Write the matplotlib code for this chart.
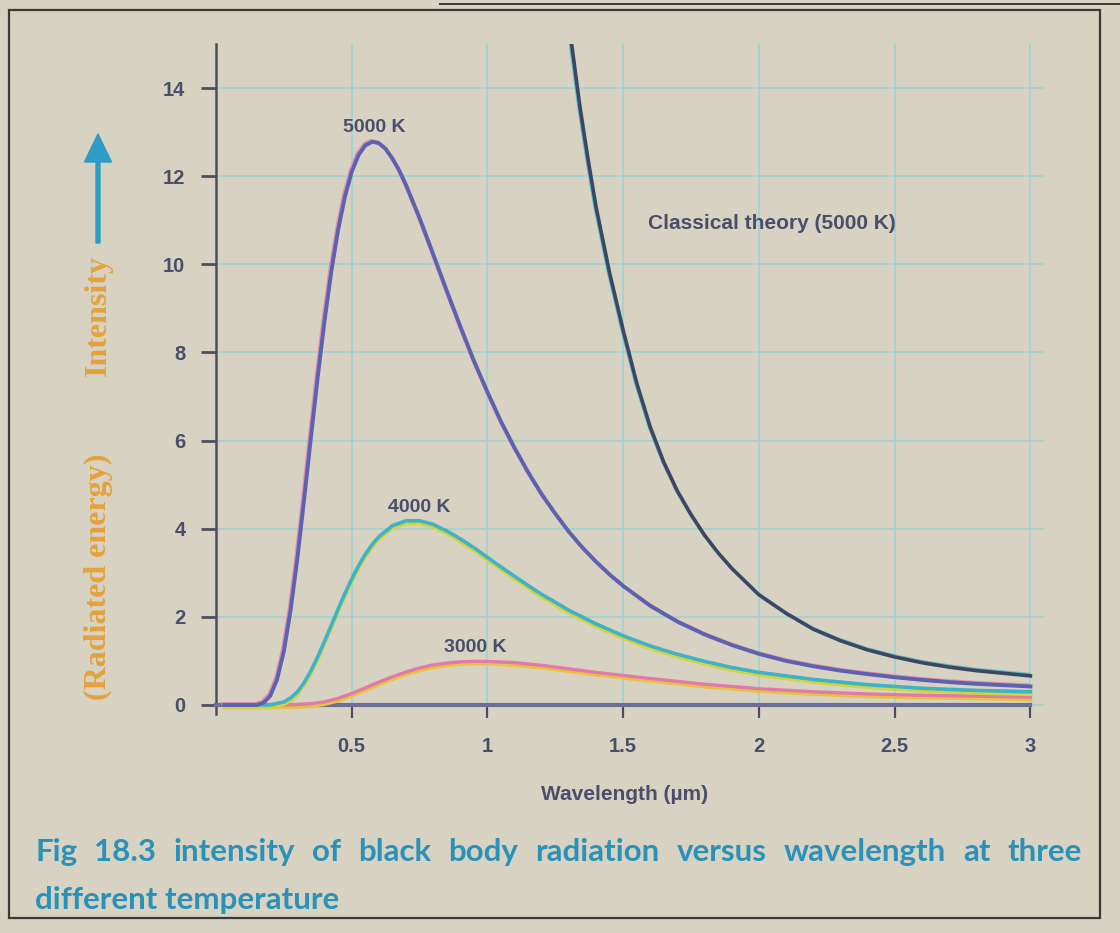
import matplotlib
matplotlib.use("Agg")
import matplotlib.pyplot as plt
import matplotlib.transforms as mtransforms
from matplotlib.patches import Rectangle, FancyArrow

# Data (wavelength in um, intensity in arbitrary units)
wl_5000 = [0.03, 0.15, 0.175, 0.2, 0.225, 0.25, 0.275, 0.3, 0.325, 0.35, 0.375, 0.4,
           0.425, 0.45, 0.475, 0.5, 0.525, 0.55, 0.575, 0.6, 0.625, 0.65, 0.675, 0.7,
           0.75, 0.8, 0.85, 0.9, 0.95, 1.0, 1.05, 1.1, 1.15, 1.2, 1.25, 1.3, 1.35, 1.4,
           1.45, 1.5, 1.6, 1.7, 1.8, 1.9, 2.0, 2.1, 2.2, 2.3, 2.4, 2.5, 2.6, 2.7, 2.8,
           2.9, 3.0]
int_5000 = [0.0, 0.0, 0.05, 0.21, 0.58, 1.22, 2.16, 3.34, 4.69, 6.09, 7.46, 8.73,
            9.85, 10.79, 11.54, 12.10, 12.48, 12.70, 12.78, 12.75, 12.62, 12.40, 12.13, 11.80,
            11.05, 10.23, 9.40, 8.59, 7.81, 7.10, 6.43, 5.83, 5.28, 4.78, 4.34, 3.93, 3.57, 3.25,
            2.96, 2.70, 2.25, 1.89, 1.60, 1.36, 1.16, 1.00, 0.88, 0.78, 0.70, 0.63, 0.57, 0.52, 0.48,
            0.45, 0.42]

wl_4000 = [0.03, 0.2, 0.25, 0.275, 0.3, 0.325, 0.35, 0.375, 0.4, 0.425, 0.45, 0.475,
           0.5, 0.525, 0.55, 0.575, 0.6, 0.65, 0.7, 0.75, 0.8, 0.85, 0.9, 0.95, 1.0,
           1.05, 1.1, 1.15, 1.2, 1.25, 1.3, 1.4, 1.5, 1.6, 1.7, 1.8, 1.9, 2.0, 2.1,
           2.2, 2.3, 2.4, 2.5, 2.6, 2.7, 2.8, 2.9, 3.0]
int_4000 = [0.0, 0.0, 0.07, 0.16, 0.30, 0.51, 0.78, 1.10, 1.45, 1.81, 2.18, 2.53,
            2.86, 3.16, 3.42, 3.64, 3.82, 4.07, 4.18, 4.18, 4.10, 3.95, 3.77, 3.57, 3.35,
            3.13, 2.92, 2.71, 2.51, 2.33, 2.15, 1.84, 1.57, 1.34, 1.15, 0.99, 0.85, 0.74, 0.66,
            0.58, 0.52, 0.46, 0.42, 0.38, 0.355, 0.33, 0.315, 0.30]

wl_3000 = [0.03, 0.25, 0.3, 0.35, 0.4, 0.45, 0.5, 0.55, 0.6, 0.65, 0.7, 0.75, 0.8,
           0.85, 0.9, 0.95, 1.0, 1.1, 1.2, 1.3, 1.4, 1.5, 1.6, 1.8, 2.0, 2.2, 2.4,
           2.6, 2.8, 3.0]
int_3000 = [0.0, 0.0, 0.01, 0.03, 0.07, 0.15, 0.26, 0.39, 0.52, 0.64, 0.75, 0.84, 0.91,
            0.95, 0.98, 0.99, 0.99, 0.96, 0.90, 0.82, 0.74, 0.67, 0.60, 0.47, 0.37, 0.30, 0.25,
            0.22, 0.20, 0.18]

wl_classic = [1.31, 1.34, 1.37, 1.40, 1.45, 1.50, 1.55, 1.60, 1.65, 1.70, 1.75, 1.80,
              1.85, 1.90, 1.95, 2.00, 2.10, 2.20, 2.30, 2.40, 2.50, 2.60, 2.70, 2.80,
              2.90, 3.00]
int_classic = [15.0, 13.6, 12.4, 11.3, 9.8, 8.5, 7.3, 6.3, 5.5, 4.85, 4.32, 3.85,
               3.45, 3.1, 2.8, 2.5, 2.08, 1.72, 1.46, 1.25, 1.09, 0.96, 0.86, 0.78,
               0.72, 0.66]

x_ticks = [0.5, 1, 1.5, 2, 2.5, 3]
x_tick_labels = ["0.5", "1", "1.5", "2", "2.5", "3"]
y_ticks = [0, 2, 4, 6, 8, 10, 12, 14]

caption_1 = "Fig 18.3 intensity of black body radiation versus wavelength at three"
caption_2 = "different temperature"

paper = "#d7d2c2"
ink = "#4a4e6a"

W, H = 1120, 933
fig = plt.figure(figsize=(W / 100, H / 100), dpi=100, facecolor=paper)
ax = fig.add_axes([216 / W, 1 - 713.8 / H, 828 / W, 669.8 / H])
ax.set_facecolor(paper)

ax.set_xlim(0, 3.05)
ax.set_ylim(-0.2, 15.0)
ax.set_xticks(x_ticks)
ax.set_xticklabels(x_tick_labels)
ax.set_yticks(y_ticks)

ax.grid(True, color="#a2d2d0", lw=1.3, zorder=0)
ax.set_axisbelow(True)

for s in ["top", "right"]:
    ax.spines[s].set_visible(False)
ax.spines["bottom"].set_position(("data", 0))
ax.spines["bottom"].set_bounds(0, 3)
ax.spines["bottom"].set_color("#6b6f96")
ax.spines["bottom"].set_linewidth(3)
ax.spines["left"].set_bounds(-0.2, 15)
ax.spines["left"].set_color("#4a5060")
ax.spines["left"].set_linewidth(1.8)

ax.tick_params(axis="x", direction="out", length=9, width=1.6, color="#4a5060",
               pad=14, labelsize=14.5, labelcolor=ink)
ax.tick_params(axis="y", direction="out", length=11, width=2, color="#4a5060",
               pad=11, labelsize=14.5, labelcolor=ink)
for lab in ax.get_xticklabels() + ax.get_yticklabels():
    lab.set_fontweight("bold")
    lab.set_family("Liberation Sans")

down = mtransforms.offset_copy(ax.transData, fig=fig, x=0, y=-2.5, units="dots")
up = mtransforms.offset_copy(ax.transData, fig=fig, x=-1.5, y=1.5, units="dots")

# curves (slight colour mis-registration like the printed original)
ax.plot(wl_3000, int_3000, color="#e8c23c", lw=2.4, transform=down, zorder=3)
ax.plot(wl_3000, int_3000, color="#e27aa8", lw=2.4, zorder=3)
ax.plot(wl_4000, int_4000, color="#d6d23a", lw=2.6, transform=down, zorder=4)
ax.plot(wl_4000, int_4000, color="#3eb2c6", lw=2.6, zorder=4)
ax.plot(wl_5000, int_5000, color="#e58fb0", lw=2.2, transform=up, zorder=5)
ax.plot(wl_5000, int_5000, color="#5d62b0", lw=2.8, zorder=5)
ax.plot(wl_classic, int_classic, color="#5fb8cc", lw=2.2, transform=up, zorder=6)
ax.plot(wl_classic, int_classic, color="#3a4864", lw=2.6, zorder=6)

lab_kw = dict(fontsize=14, fontweight="bold", color=ink, family="Liberation Sans",
              ha="center", va="center")
ax.text(0.583, 13.1, "5000 K", **lab_kw)
ax.text(0.75, 4.48, "4000 K", **lab_kw)
ax.text(0.956, 1.3, "3000 K", **lab_kw)
ax.text(1.59, 10.93, "Classical theory (5000 K)", fontsize=15, fontweight="bold",
        color=ink, family="Liberation Sans", ha="left", va="center")

ax.set_xlabel("Wavelength (µm)", fontsize=15, fontweight="bold", color=ink,
              family="Liberation Sans")
ax.xaxis.set_label_coords(625 / W, 1 - 785 / H, transform=fig.transFigure)

# y axis label with arrow
ylab_kw = dict(rotation=90, ha="center", va="center", fontsize=23, fontweight="bold",
               family="Liberation Serif", color="#e4a23c")
fig.text(98 / W, 1 - 315 / H, "Intensity", **ylab_kw)
fig.text(98 / W, 1 - 577 / H, "(Radiated energy)", **ylab_kw)
fig.patches.append(FancyArrow(98 / W, 1 - 243 / H, 0, (243 - 134) / H - 28 / H,
                              width=4 / W, head_width=27 / W, head_length=28 / H,
                              length_includes_head=False, color="#2e9cc4",
                              transform=fig.transFigure, figure=fig))

# caption, first line justified across the box
cap_kw = dict(fontsize=22.5, fontweight="bold", family="Lato", color="#2a92b8", va="center")
words = caption_1.split()
texts = [fig.text(0, 1 - 852 / H, w, **cap_kw) for w in words]
fig.canvas.draw()
r = fig.canvas.get_renderer()
widths = [t.get_window_extent(r).width for t in texts]
gap = (1082 - 35 - sum(widths)) / (len(words) - 1)
xp = 35
for t, w in zip(texts, widths):
    t.set_x(xp / W)
    xp += w + gap
fig.text(35 / W, 1 - 900 / H, caption_2, **cap_kw)

# page box
fig.patches.append(Rectangle((9 / W, 1 - 918 / H), (1100 - 9) / W, (918 - 10) / H,
                             fill=False, ec="#3a3a38", lw=1.6,
                             transform=fig.transFigure, figure=fig))
fig.lines.append(plt.Line2D([440 / W, 1], [1 - 4 / H, 1 - 4 / H], color="#3a3a38",
                            lw=1.4, transform=fig.transFigure, figure=fig))

fig.savefig("out.png", dpi=100, facecolor=paper)
